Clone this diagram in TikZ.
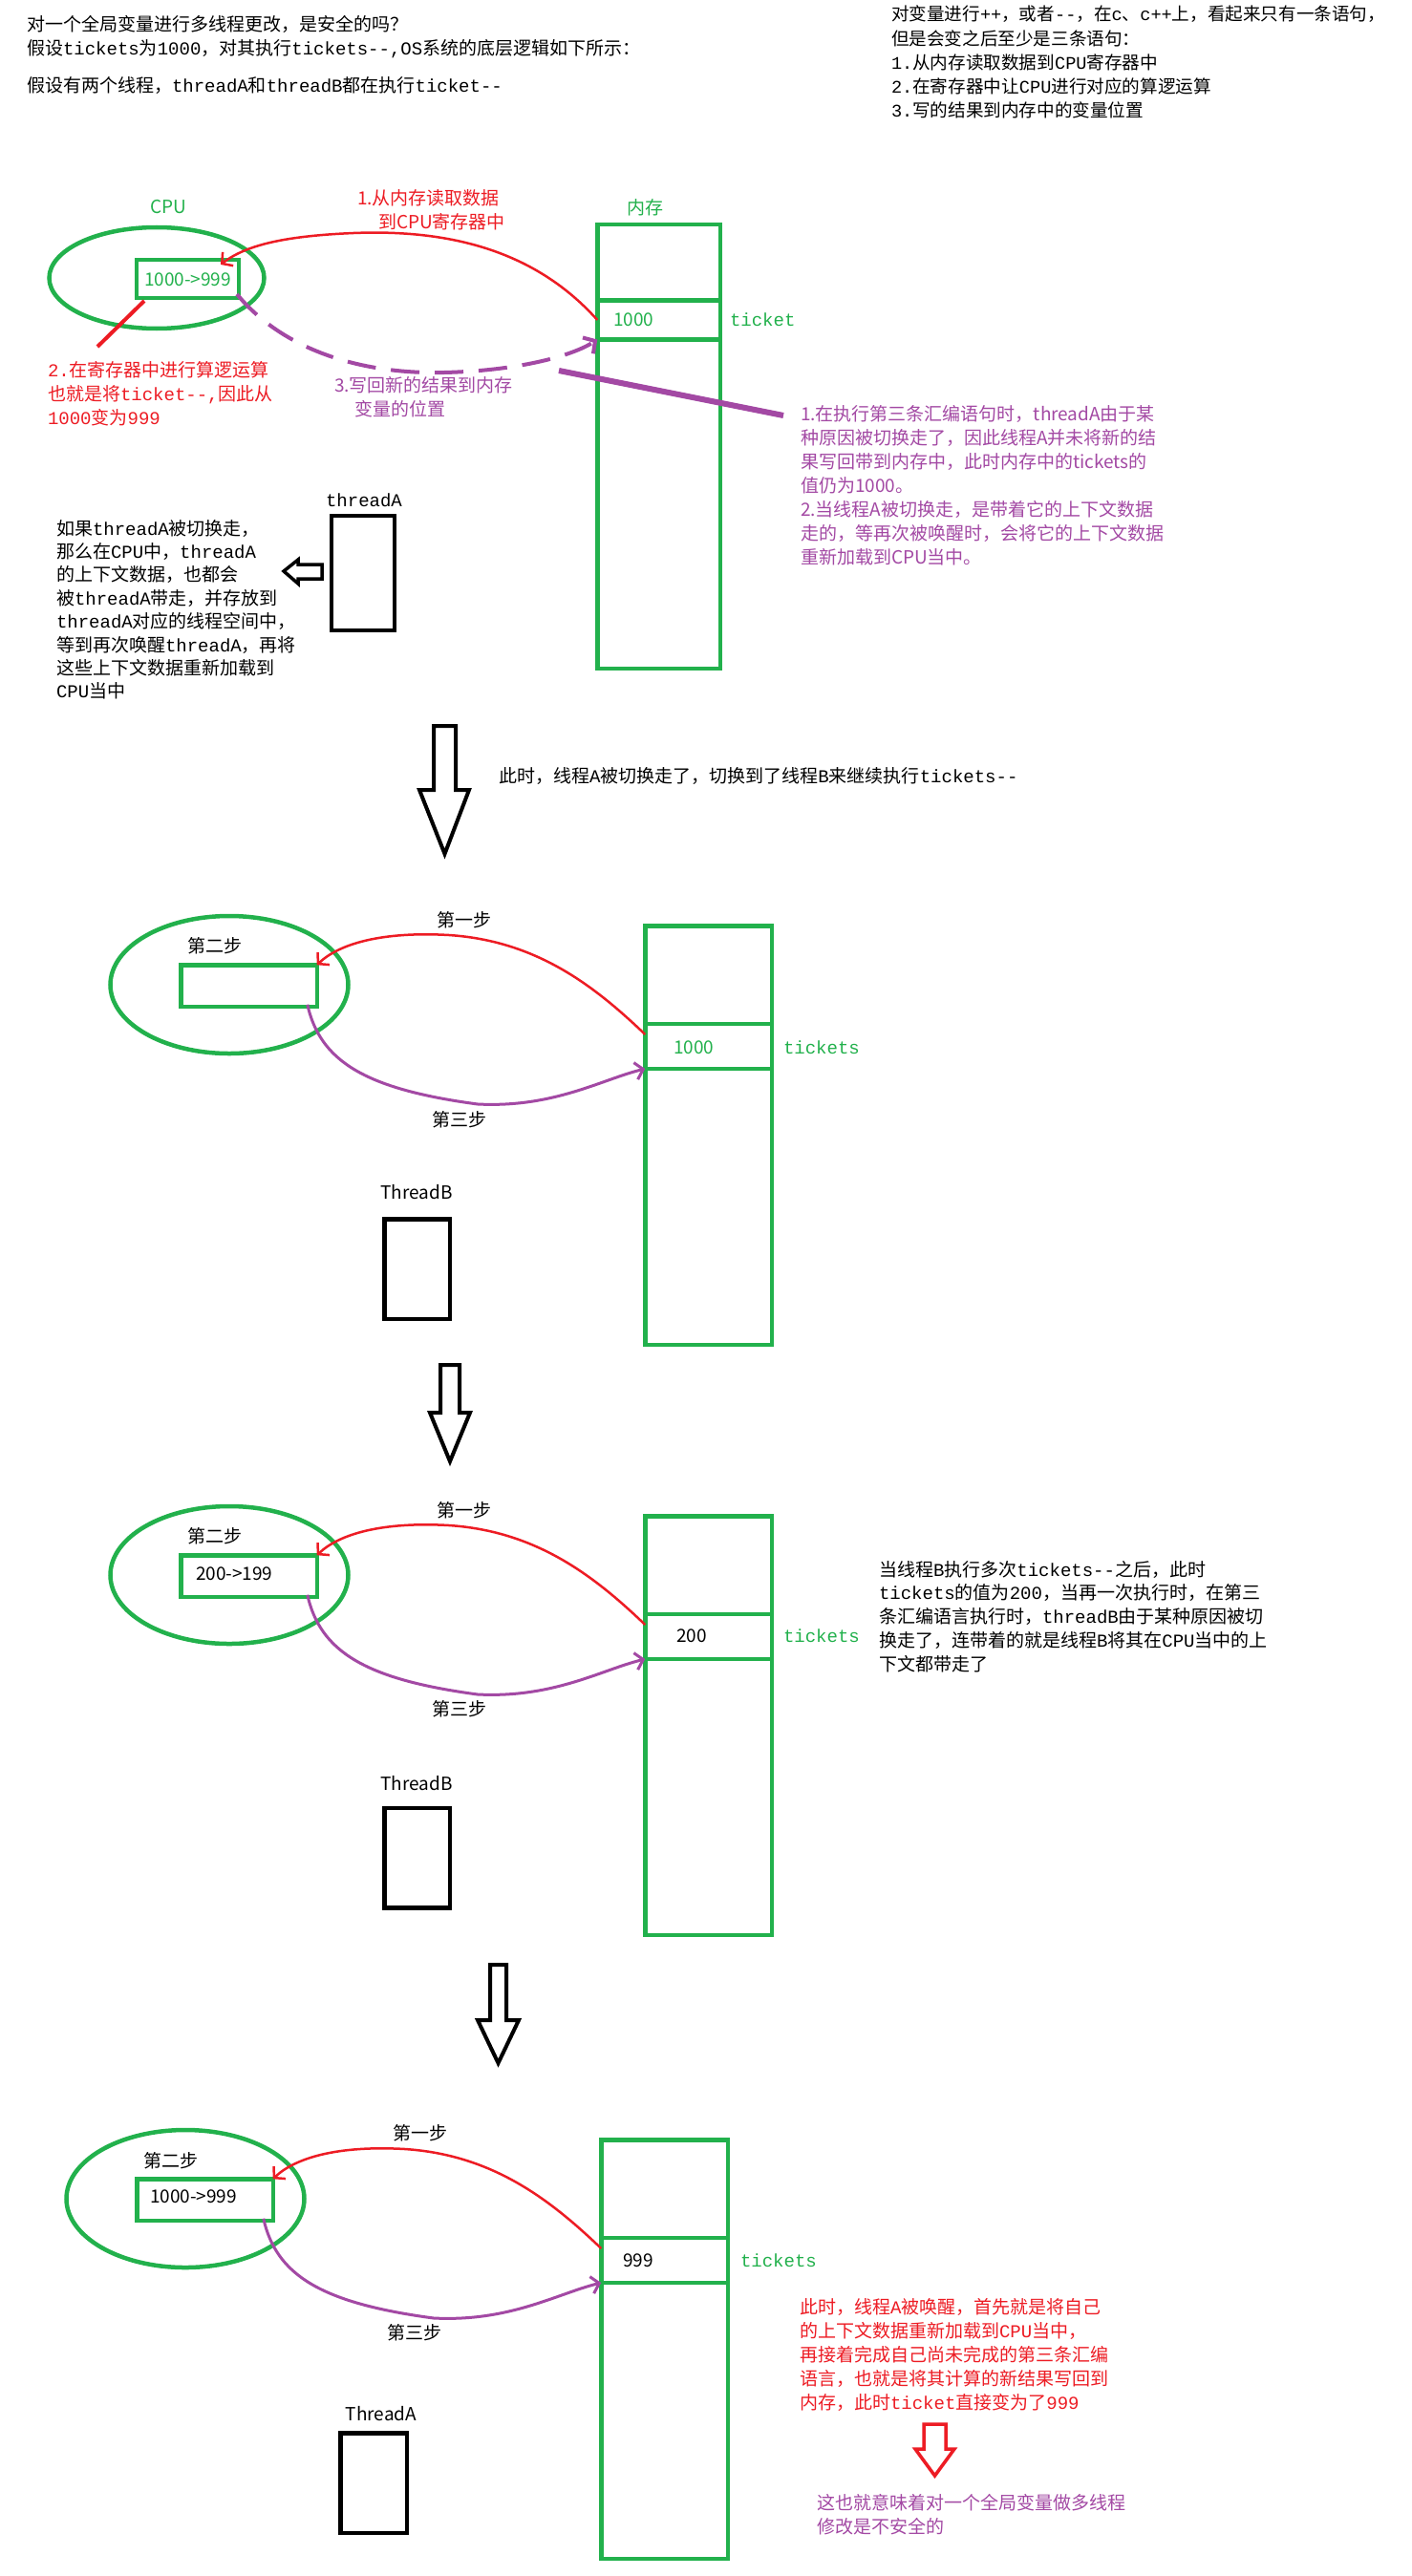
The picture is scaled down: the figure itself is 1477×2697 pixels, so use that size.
\documentclass[tikz,border=0pt]{standalone}
\usepackage{fontspec}
\newfontfamily\cjk{Noto Sans CJK SC}
\newfontfamily\latm{Liberation Mono}
\usetikzlibrary{shapes.geometric,arrows.meta,calc}
\definecolor{pgreen}{HTML}{22B14C}
\definecolor{pred}{HTML}{ED1C24}
\definecolor{ppurple}{HTML}{A349A4}
% Latin letters/digits in class 10: switched to a monospaced face inside "mix" nodes
\newcount\mycc
\def\setlat#1#2{\mycc=`#1\relax\loop\XeTeXcharclass\mycc=10\relax\ifnum\mycc<`#2\relax\advance\mycc by 1\relax\repeat}
\setlat az\setlat AZ\setlat 09
\XeTeXcharclass`\-=10 \XeTeXcharclass`\>=10 \XeTeXcharclass`\+=10 \XeTeXcharclass`\,=10 \XeTeXcharclass`\.=10
\mycc=0
\loop
 \XeTeXinterchartoks\mycc 10={\latm}%
 \XeTeXinterchartoks 10 \mycc={\cjk}%
 \XeTeXinterchartoks 4095 \mycc={\cjk}%
 \ifnum\mycc<9 \advance\mycc by 1 \repeat
\XeTeXinterchartoks 4095 10={\latm}
\newcommand\mixon{\XeTeXinterchartokenstate1\relax}
\begin{document}
\begin{tikzpicture}[x=1pt,y=-1pt,
 every node/.style={inner sep=0pt,outer sep=0pt},
 base/.style={font=\cjk\fontsize{19}{25}\selectfont},
 mix/.style={font=\cjk\fontsize{19}{25}\selectfont\mixon},
 btxt/.style={base,text=black},
 gtxt/.style={base,text=pgreen},
 rtxt/.style={base,text=pred},
 ptxt/.style={base,text=ppurple},
 lw/.style={anchor=west},
 blk/.style={anchor=north west,align=left},
 gbox/.style={draw=pgreen,line width=4.5pt,rectangle},
 gell/.style={draw=pgreen,line width=4.5pt,ellipse},
 tbox/.style={draw=black,line width=4.5pt,rectangle},
 redc/.style={draw=pred,line width=2.5pt,-{Straight Barb[length=8pt,width=18pt]}},
 purc/.style={draw=ppurple,line width=3pt,-{Straight Barb[length=8pt,width=18pt]}},
 purdash/.style={draw=ppurple,line width=4pt,dash pattern=on 30pt off 16pt,-{Straight Barb[length=9pt,width=20pt]}},
 hollow/.style={draw=black,line width=4pt,line join=miter},
 hollowred/.style={draw=pred,line width=3.5pt,line join=miter},
]
\fill[white] (0,0) rectangle (1477,2697);
\useasboundingbox (0,0) rectangle (1477,2697);

% ---------- header texts ----------
\node[btxt,mix,blk] (head1) at (28,16) {对一个全局变量进行多线程更改，是安全的吗？\\假设tickets为1000，对其执行tickets-{}-,OS系统的底层逻辑如下所示：};
\node[btxt,mix,lw] (head2) at (28,90) {假设有两个线程，threadA和threadB都在执行ticket-{}-};
\node[btxt,blk,font=\cjk\fontsize{18.6}{25.3}\selectfont\mixon] (head3) at (933,6) {对变量进行++，或者-{}-，在c、c++上，看起来只有一条语句，\\但是会变之后至少是三条语句：\\1.从内存读取数据到CPU寄存器中\\2.在寄存器中让CPU进行对应的算逻运算\\3.写的结果到内存中的变量位置};

% ---------- section 1 ----------
\node[gtxt] (cpulab1) at (176,217) {CPU};
\node[gell,minimum width=225pt,minimum height=106pt] (cpu1) at (164,291) {};
\node[gbox,minimum width=107pt,minimum height=40pt] (reg1) at (196.5,292) {};
\node[gtxt,lw] (val1) at (151,293) {1000->999};
\node[gtxt] (memlab1) at (675,217) {内存};
\node[gbox,minimum width=128.5pt,minimum height=464.5pt] (mem1) at (689.5,467.5) {};
\node[gbox,minimum width=128.5pt,minimum height=41pt] (cell1) at (689.5,335) {};
\node[gtxt,lw] (cv1) at (642,335) {1000};
\node[gtxt,mix,lw] (tk1) at (764,335) {ticket};
\node[rtxt,lw] (r1a) at (374,207) {1.从内存读取数据};
\node[rtxt,lw] (r1b) at (396,232) {到CPU寄存器中};
\node[rtxt,mix,blk] (lab2) at (50,378) {2.在寄存器中进行算逻运算\\也就是将ticket-{}-,因此从\\1000变为999};
\node[ptxt,lw] (w3a) at (350,403) {3.写回新的结果到内存};
\node[ptxt,lw] (w3b) at (371,428) {变量的位置};
\node[ptxt,blk] (note1) at (838,424) {1.在执行第三条汇编语句时，threadA由于某\\种原因被切换走了，因此线程A并未将新的结\\果写回带到内存中，此时内存中的tickets的\\值仍为1000。\\2.当线程A被切换走，是带着它的上下文数据\\走的，等再次被唤醒时，会将它的上下文数据\\重新加载到CPU当中。};
\draw[redc] (cell1.west) .. controls (560,262) and (470,240) .. (370,244) .. controls (300,247) and (258,256) .. ($(reg1.north east)+(-19,5)$);
\draw[purdash] ($(reg1.south east)+(-2,-4)$) .. controls (295,365) and (375,392) .. (465,390) .. controls (545,388) and (600,372) .. (cell1.south west);
\draw[pred,line width=4pt] ($(reg1.south west)+(8,3)$) -- ($(lab2.north west)+(52,-15)$);
\coordinate (pl1) at (585,388);
\draw[ppurple,line width=6pt] (pl1) -- ($(note1.north west)+(-18,11)$);
\node[btxt,mix] (thAlab1) at (381,524) {threadA};
\node[tbox,minimum width=66pt,minimum height=120pt] (thA1) at (380,600) {};
\draw[hollow,line width=3.5pt] (297,598) -- (312,586) -- (312,591) -- (337,591) -- (337,606) -- (312,606) -- (312,611) -- cycle;
\node[btxt,blk,font=\cjk\fontsize{19}{24.4}\selectfont\mixon] (ctx1) at (59,544) {如果threadA被切换走，\\那么在CPU中，threadA\\的上下文数据，也都会\\被threadA带走，并存放到\\threadA对应的线程空间中，\\等到再次唤醒threadA，再将\\这些上下文数据重新加载到\\CPU当中};

% ---------- arrow 1 ----------
\draw[hollow] (454,760) -- (477,760) -- (477,827) -- (491,827) -- (465.5,894) -- (439,827) -- (454,827) -- cycle;
\node[btxt,mix,lw] (sw1) at (522,813) {此时，线程A被切换走了，切换到了线程B来继续执行tickets-{}-};

% ---------- section 2 ----------
\node[gell,minimum width=249pt,minimum height=144pt] (cpu2) at (240,1031) {};
\node[btxt] (s2b2) at (225,990) {第二步};
\node[gbox,minimum width=142.5pt,minimum height=43.5pt] (reg2) at (260.5,1032) {};
\node[btxt] (s1b2) at (486,963) {第一步};
\node[gbox,minimum width=132.5pt,minimum height=438.5pt] (mem2) at (741.5,1188.5) {};
\node[gbox,minimum width=132.5pt,minimum height=47pt] (cell2) at (741.5,1095.5) {};
\node[gtxt,lw] (cv2) at (705,1097) {1000};
\node[gtxt,mix,lw] (tk2) at (820,1097) {tickets};
\draw[redc] ($(cell2.north west)+(0,11)$) .. controls (620,1030) and (560,985) .. (470,979) .. controls (400,975) and (355,988) .. (reg2.north east);
\draw[purc] ($(reg2.south east)+(-10,-2)$) .. controls (335,1110) and (380,1140) .. (500,1156) .. controls (580,1160) and (630,1130) .. (cell2.south west);
\node[btxt] (s3b2) at (481,1172) {第三步};
\node[btxt] (thlab2) at (436,1248) {ThreadB};
\node[tbox,minimum width=68.5pt,minimum height=104.5pt] (th2) at (436.5,1328.5) {};

% ---------- arrow 2 ----------
\draw[hollow] (461,1429) -- (481,1429) -- (481,1479) -- (492,1479) -- (471,1530) -- (450,1479) -- (461,1479) -- cycle;

% ---------- section 3 ----------
\begin{scope}[shift={(0,618)}]
\node[gell,minimum width=249pt,minimum height=144pt] (cpu3) at (240,1031) {};
\node[btxt] (s2b3) at (225,990) {第二步};
\node[gbox,minimum width=142.5pt,minimum height=43.5pt] (reg3) at (260.5,1032) {};
\node[btxt,lw] (val3) at (205,1030) {200->199};
\node[btxt] (s1b3) at (486,963) {第一步};
\node[gbox,minimum width=132.5pt,minimum height=438.5pt] (mem3) at (741.5,1188.5) {};
\node[gbox,minimum width=132.5pt,minimum height=47pt] (cell3) at (741.5,1095.5) {};
\node[btxt,lw] (cv3) at (708,1095) {200};
\node[gtxt,mix,lw] (tk3) at (820,1095) {tickets};
\draw[redc] ($(cell3.north west)+(0,11)$) .. controls (620,1030) and (560,985) .. (470,979) .. controls (400,975) and (355,988) .. (reg3.north east);
\draw[purc] ($(reg3.south east)+(-10,-2)$) .. controls (335,1110) and (380,1140) .. (500,1156) .. controls (580,1160) and (630,1130) .. (cell3.south west);
\node[btxt] (s3b3) at (481,1171) {第三步};
\node[btxt] (thlab3) at (436,1249) {ThreadB};
\node[tbox,minimum width=68.5pt,minimum height=104.5pt] (th3) at (436.5,1327) {};
\end{scope}
\node[btxt,blk,font=\cjk\fontsize{19}{24.75}\selectfont\mixon] (note3) at (920,1634) {当线程B执行多次tickets-{}-之后，此时\\tickets的值为200，当再一次执行时，在第三\\条汇编语言执行时，threadB由于某种原因被切\\换走了，连带着的就是线程B将其在CPU当中的上\\下文都带走了};

% ---------- arrow 3 ----------
\draw[hollow] (513,2057) -- (530,2057) -- (530,2115) -- (543,2115) -- (521.5,2160) -- (500,2115) -- (513,2115) -- cycle;

% ---------- section 4 ----------
\begin{scope}[shift={(-46,1271)}]
\node[gell,minimum width=249pt,minimum height=144pt] (cpu4) at (240,1031) {};
\node[btxt] (s2b4) at (225,991) {第二步};
\node[gbox,minimum width=142.5pt,minimum height=43.5pt] (reg4) at (260.5,1032) {};
\node[btxt,lw] (val4) at (203,1029) {1000->999};
\node[btxt] (s1b4) at (486,962) {第一步};
\node[gbox,minimum width=132.5pt,minimum height=438.5pt] (mem4) at (741.5,1188.5) {};
\node[gbox,minimum width=132.5pt,minimum height=47pt] (cell4) at (741.5,1095.5) {};
\node[btxt,lw] (cv4) at (698,1096) {999};
\node[gtxt,mix,lw] (tk4) at (821,1096) {tickets};
\draw[redc] ($(cell4.north west)+(0,11)$) .. controls (620,1030) and (560,985) .. (470,979) .. controls (400,975) and (355,988) .. (reg4.north east);
\draw[purc] ($(reg4.south east)+(-10,-2)$) .. controls (335,1110) and (380,1140) .. (500,1156) .. controls (580,1160) and (630,1130) .. (cell4.south west);
\node[btxt] (s3b4) at (480,1171) {第三步};
\node[btxt] (thlab4) at (445,1256) {ThreadA};
\node[tbox,minimum width=69.5pt,minimum height=104.5pt] (th4) at (437,1328.5) {};
\end{scope}
\node[rtxt,mix,blk] (note4) at (837,2406) {此时，线程A被唤醒，首先就是将自己\\的上下文数据重新加载到CPU当中，\\再接着完成自己尚未完成的第三条汇编\\语言，也就是将其计算的新结果写回到\\内存，此时ticket直接变为了999};
\draw[hollowred] (967,2538) -- (990,2538) -- (990,2564) -- (999,2564) -- (978.5,2592) -- (958,2564) -- (967,2564) -- cycle;
\node[ptxt,blk] (concl) at (855,2611) {这也就意味着对一个全局变量做多线程\\修改是不安全的};
\end{tikzpicture}
\end{document}
